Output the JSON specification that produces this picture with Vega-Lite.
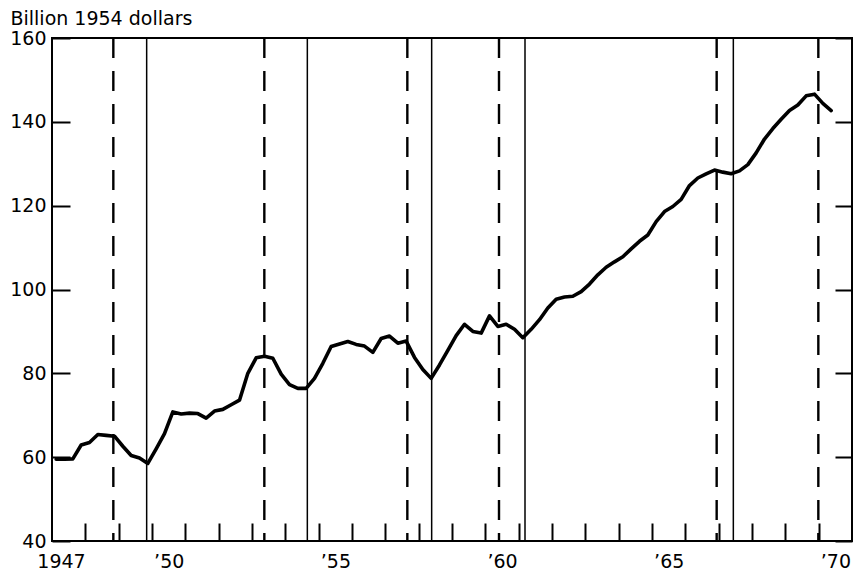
{
  "$schema": "https://vega.github.io/schema/vega-lite/v6.json",
  "width": 800,
  "height": 503,
  "autosize": "none",
  "padding": {"left": 52, "top": 38, "right": 8, "bottom": 30},
  "background": "#ffffff",
  "config": {
    "view": {"stroke": "#000000", "strokeWidth": 2},
    "font": "DejaVu Sans",
    "axis": {
      "labelFont": "DejaVu Sans",
      "labelFontSize": 19,
      "labelColor": "#000000",
      "tickColor": "#000000",
      "tickWidth": 2,
      "domain": false,
      "grid": false,
      "labelFlush": false,
      "labelOverlap": false,
      "labelBound": false
    }
  },
  "datasets": {
    "series": [
      {"t": 1947.125, "v": 59.5}, {"t": 1947.375, "v": 59.5}, {"t": 1947.625, "v": 59.6}, {"t": 1947.875, "v": 62.9},
      {"t": 1948.125, "v": 63.5}, {"t": 1948.375, "v": 65.4}, {"t": 1948.625, "v": 65.2}, {"t": 1948.875, "v": 65.0},
      {"t": 1949.125, "v": 62.6}, {"t": 1949.375, "v": 60.4}, {"t": 1949.625, "v": 59.8}, {"t": 1949.875, "v": 58.5},
      {"t": 1950.125, "v": 62.0}, {"t": 1950.375, "v": 65.6}, {"t": 1950.625, "v": 70.8}, {"t": 1950.875, "v": 70.3},
      {"t": 1951.125, "v": 70.5}, {"t": 1951.375, "v": 70.4}, {"t": 1951.625, "v": 69.3}, {"t": 1951.875, "v": 71.0},
      {"t": 1952.125, "v": 71.4}, {"t": 1952.375, "v": 72.5}, {"t": 1952.625, "v": 73.6}, {"t": 1952.875, "v": 80.0},
      {"t": 1953.125, "v": 83.7}, {"t": 1953.375, "v": 84.1}, {"t": 1953.625, "v": 83.6}, {"t": 1953.875, "v": 79.8},
      {"t": 1954.125, "v": 77.3}, {"t": 1954.375, "v": 76.4}, {"t": 1954.625, "v": 76.4}, {"t": 1954.875, "v": 78.8},
      {"t": 1955.125, "v": 82.4}, {"t": 1955.375, "v": 86.4}, {"t": 1955.625, "v": 87.0}, {"t": 1955.875, "v": 87.6},
      {"t": 1956.125, "v": 86.9}, {"t": 1956.375, "v": 86.5}, {"t": 1956.625, "v": 85.0}, {"t": 1956.875, "v": 88.3},
      {"t": 1957.125, "v": 88.9}, {"t": 1957.375, "v": 87.2}, {"t": 1957.625, "v": 87.7}, {"t": 1957.875, "v": 83.8},
      {"t": 1958.125, "v": 80.9}, {"t": 1958.375, "v": 78.8}, {"t": 1958.625, "v": 82.0}, {"t": 1958.875, "v": 85.5},
      {"t": 1959.125, "v": 89.0}, {"t": 1959.375, "v": 91.7}, {"t": 1959.625, "v": 90.0}, {"t": 1959.875, "v": 89.6},
      {"t": 1960.125, "v": 93.7}, {"t": 1960.375, "v": 91.2}, {"t": 1960.625, "v": 91.7}, {"t": 1960.875, "v": 90.5},
      {"t": 1961.125, "v": 88.5}, {"t": 1961.375, "v": 90.5}, {"t": 1961.625, "v": 92.8}, {"t": 1961.875, "v": 95.6},
      {"t": 1962.125, "v": 97.7}, {"t": 1962.375, "v": 98.2}, {"t": 1962.625, "v": 98.4}, {"t": 1962.875, "v": 99.5},
      {"t": 1963.125, "v": 101.3}, {"t": 1963.375, "v": 103.5}, {"t": 1963.625, "v": 105.3}, {"t": 1963.875, "v": 106.6},
      {"t": 1964.125, "v": 107.8}, {"t": 1964.375, "v": 109.7}, {"t": 1964.625, "v": 111.5}, {"t": 1964.875, "v": 113.0},
      {"t": 1965.125, "v": 116.2}, {"t": 1965.375, "v": 118.6}, {"t": 1965.625, "v": 119.8}, {"t": 1965.875, "v": 121.5},
      {"t": 1966.125, "v": 124.8}, {"t": 1966.375, "v": 126.6}, {"t": 1966.625, "v": 127.6}, {"t": 1966.875, "v": 128.5},
      {"t": 1967.125, "v": 128.0}, {"t": 1967.375, "v": 127.6}, {"t": 1967.625, "v": 128.3}, {"t": 1967.875, "v": 129.8},
      {"t": 1968.125, "v": 132.6}, {"t": 1968.375, "v": 135.9}, {"t": 1968.625, "v": 138.4}, {"t": 1968.875, "v": 140.6},
      {"t": 1969.125, "v": 142.7}, {"t": 1969.375, "v": 144.0}, {"t": 1969.625, "v": 146.2}, {"t": 1969.875, "v": 146.6},
      {"t": 1970.125, "v": 144.4}, {"t": 1970.375, "v": 142.7}
    ],
    "cycles": [
      {"t": 1948.84, "type": "peak"},
      {"t": 1949.84, "type": "trough"},
      {"t": 1953.37, "type": "peak"},
      {"t": 1954.66, "type": "trough"},
      {"t": 1957.66, "type": "peak"},
      {"t": 1958.39, "type": "trough"},
      {"t": 1960.41, "type": "peak"},
      {"t": 1961.19, "type": "trough"},
      {"t": 1966.94, "type": "peak"},
      {"t": 1967.44, "type": "trough"},
      {"t": 1969.99, "type": "peak"}
    ]
  },
  "layer": [
    {
      "data": {"name": "cycles"},
      "mark": {"type": "rule", "color": "#000000"},
      "encoding": {
        "x": {
          "field": "t",
          "type": "quantitative",
          "scale": {"domain": [1947, 1971], "nice": false, "zero": false},
          "axis": {
            "orient": "bottom",
            "title": null,
            "values": [1948, 1949, 1950, 1951, 1952, 1953, 1954, 1955, 1956, 1957, 1958, 1959, 1960, 1961, 1962, 1963, 1964, 1965, 1966, 1967, 1968, 1969, 1970],
            "labels": false,
            "offset": -18,
            "ticks": true,
            "tickSize": 18
          }
        },
        "strokeDash": {
          "field": "type",
          "type": "nominal",
          "scale": {"domain": ["peak", "trough"], "range": [[20, 13], [1, 0]]},
          "legend": null
        },
        "strokeWidth": {
          "field": "type",
          "type": "nominal",
          "scale": {"domain": ["peak", "trough"], "range": [2.4, 1.5]},
          "legend": null
        }
      }
    },
    {
      "data": {"name": "series"},
      "mark": {"type": "line", "color": "#000000", "strokeWidth": 3.6, "strokeJoin": "round", "strokeCap": "round"},
      "encoding": {
        "x": {
          "field": "t",
          "type": "quantitative",
          "axis": {
            "orient": "bottom",
            "title": null,
            "values": [1947, 1950, 1955, 1960, 1965, 1970],
            "labelExpr": "datum.value == 1947 ? '1947' : '’' + substring(toString(datum.value), 2, 4)",
            "ticks": false,
            "labelOverlap": false,
            "labelFlush": false,
            "labelPadding": 11,
            "labelOffset": {"condition": {"test": "datum.value == 1947", "value": 9}, "value": 16.7}
          }
        },
        "y": {
          "field": "v",
          "type": "quantitative",
          "scale": {"domain": [40, 160], "nice": false, "zero": false},
          "axis": {
            "orient": "left",
            "zindex": 1,
            "values": [40, 60, 80, 100, 120, 140, 160],
            "ticks": false,
            "grid": true,
            "gridColor": "#000000",
            "gridWidth": 2,
            "gridOpacity": 1,
            "gridDash": [18, 765],
            "labelPadding": 6,
            "labelOverlap": false,
            "title": "Billion 1954 dollars",
            "titleAngle": 0,
            "titleAlign": "left",
            "titleBaseline": "alphabetic",
            "titleX": -42,
            "titleY": -14,
            "titleFont": "DejaVu Sans",
            "titleFontSize": 19,
            "titleFontWeight": "normal",
            "titleColor": "#000000"
          }
        }
      }
    }
  ],
  "resolve": {"axis": {"x": "independent"}}
}
